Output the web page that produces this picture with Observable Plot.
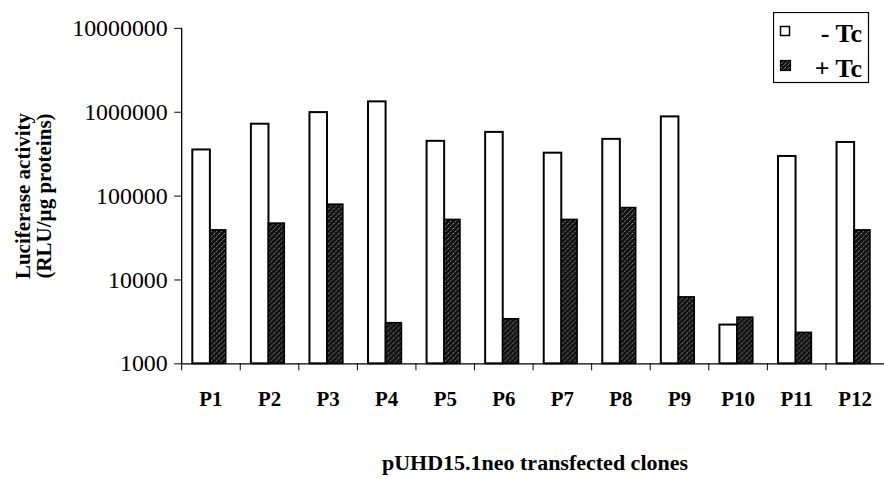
<!DOCTYPE html>
<html>
<head>
<meta charset="utf-8">
<script src="https://cdn.jsdelivr.net/npm/d3@7"></script>
<script src="https://cdn.jsdelivr.net/npm/@observablehq/plot@0.6"></script>
<style>
  html, body { margin: 0; padding: 0; background: #fff; }
  #wrap { position: relative; width: 884px; height: 479px; overflow: hidden; background: #fff;
          font-family: "Liberation Serif", "Times New Roman", serif; color: #000; }
  #chart { position: absolute; left: 0; top: 0; }
  #ytitle { position: absolute; left: -86px; top: 175px; width: 240px; height: 42px;
            transform: rotate(-90deg); text-align: center; font-weight: bold; font-size: 21px; line-height: 21px; white-space: nowrap; }
  #xtitle { position: absolute; left: 182px; width: 706px; top: 452px; text-align: center;
            font-weight: bold; font-size: 22px; line-height: 22px; white-space: nowrap; }
  #legend { position: absolute; left: 773px; top: 12px; }
</style>
</head>
<body>
<div id="wrap">
  <div id="chart"></div>
  <div id="ytitle">Luciferase activity<br>(RLU/µg proteins)</div>
  <div id="xtitle">pUHD15.1neo transfected clones</div>
  <svg id="legend" width="97" height="72" xmlns="http://www.w3.org/2000/svg">
    <defs>
      <pattern id="hatchL" patternUnits="userSpaceOnUse" width="4" height="4">
        <rect width="4" height="4" fill="#111"/>
        <path d="M0,4 L4,0 M-1,1 L1,-1 M3,5 L5,3" stroke="#a8a8a8" stroke-width="0.8" stroke-dasharray="1.4,0.9"/>
      </pattern>
    </defs>
    <rect x="0.5" y="0.5" width="95" height="70" fill="#fff" stroke="#000" stroke-width="1.2"/>
    <rect x="7.5" y="14.5" width="9" height="9" fill="#fff" stroke="#000" stroke-width="1.5"/>
    <rect x="7.5" y="48.5" width="10" height="10" fill="url(#hatchL)" stroke="#000" stroke-width="1.2"/>
    <text id="lg1" x="89" y="30" text-anchor="end" font-family="Liberation Serif, serif" font-weight="bold" font-size="26"></text>
    <text id="lg2" x="89" y="65" text-anchor="end" font-family="Liberation Serif, serif" font-weight="bold" font-size="26"></text>
  </svg>
</div>
<script>
// ---- data ----
const clones = ["P1", "P2", "P3", "P4", "P5", "P6", "P7", "P8", "P9", "P10", "P11", "P12"];
const minusTc = [355000, 720000, 990000, 1330000, 450000, 575000, 325000, 475000, 880000, 2900, 297000, 436000];
const plusTc  = [39000, 47000, 79000, 3050, 52000, 3400, 52000, 72000, 6200, 3550, 2340, 39000];
const seriesNames = ["- Tc", "+ Tc"];
const yTicks = [1000, 10000, 100000, 1000000, 10000000];

document.getElementById("lg1").textContent = seriesNames[0];
document.getElementById("lg2").textContent = seriesNames[1];

const rows = clones.map((c, i) => ({ i, clone: c, minus: minusTc[i], plus: plusTc[i] }));

const chart = Plot.plot({
  width: 888,
  height: 479,
  marginLeft: 182,
  marginRight: 0,
  marginTop: 28,
  marginBottom: 114,
  style: { fontFamily: "Liberation Serif, Times New Roman, serif", fontSize: "23px", background: "white", color: "black", overflow: "visible" },
  x: { type: "linear", domain: [0, clones.length], axis: null },
  y: { type: "log", domain: [yTicks[0], yTicks[yTicks.length - 1]], axis: null },
  marks: [
    Plot.rect(rows, { x1: d => d.i + 0.19, x2: d => d.i + 0.49, y1: yTicks[0], y2: "minus",
                      fill: "white", stroke: "black", strokeWidth: 2 }),
    Plot.rect(rows, { x1: d => d.i + 0.49, x2: d => d.i + 0.76, y1: yTicks[0], y2: "plus",
                      fill: "url(#hatch)", stroke: "black", strokeWidth: 1.6 }),
    Plot.ruleY([yTicks[0]], { strokeWidth: 1.3 }),
    Plot.ruleX([0], { strokeWidth: 1.3 }),
    Plot.axisY(yTicks, { tickSize: 7, tickPadding: 7, tickFormat: d => String(d), fontSize: 24, label: null }),
    Plot.axisX(d3.range(clones.length + 1), { tickSize: 7, tickFormat: () => "", label: null }),
    Plot.axisX(rows.map(d => d.i + 0.5), { tickSize: 0, tickPadding: 27, tickFormat: v => clones[Math.floor(v)],
                      fontSize: 21, fontWeight: "bold", label: null })
  ]
});

const defs = document.createElementNS("http://www.w3.org/2000/svg", "defs");
defs.innerHTML = '<pattern id="hatch" patternUnits="userSpaceOnUse" width="5" height="5">' +
  '<rect width="5" height="5" fill="#111"/>' +
  '<path d="M0,5 L5,0 M-1,1 L1,-1 M4,6 L6,4" stroke="#b0b0b0" stroke-width="0.9" stroke-dasharray="1.5,1"/>' +
  '</pattern>';
chart.insertBefore(defs, chart.firstChild);
document.getElementById("chart").appendChild(chart);
</script>
</body>
</html>
